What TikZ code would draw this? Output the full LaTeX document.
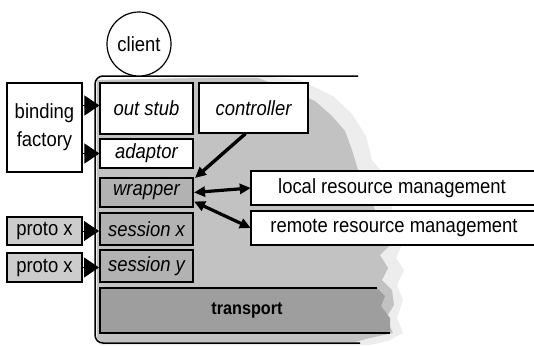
\documentclass[tikz,border=0pt]{standalone}
\usepackage{fontspec}
\setmainfont{Liberation Sans}[FakeStretch=0.9]
\usetikzlibrary{arrows.meta,calc}
\begin{document}
\begin{tikzpicture}[x=1pt,y=-1pt,
  txt/.style={font=\fontsize{20.5}{28}\selectfont},
  itxt/.style={font=\fontsize{20.5}{28}\selectfont\itshape},
  box/.style={draw, line width=1.2pt, fill=white, inner sep=0pt, align=center},
  layerbox/.style={box, line width=2pt, fill=black!30, itxt},
  plainbox/.style={box, itxt},
  outerbox/.style={box, txt},
  probox/.style={box, line width=1.4pt, fill=black!20, txt},
  openbox/.style={inner sep=0pt, fill=white, txt},
  wedge/.style={line width=1pt, -{Triangle[length=15pt,width=20pt]}},
  link/.style={line width=3.4pt, -{Triangle[length=11pt,width=10pt]}},
  duallink/.style={line width=3.2pt, {Triangle[length=11pt,width=10pt]}-{Triangle[length=11pt,width=10pt]}}
]
\useasboundingbox (0,0) rectangle (534,346);

% soft fringe of the shaded platform area
\fill[black!7] (260,76) -- (300,80) -- (333,96) -- (352,114) -- (366,136) -- (372,160)
  -- (382,172) -- (402,245) -- (396,258) -- (404,270) -- (397,285) -- (403,300)
  -- (397,318) -- (403,333) -- (388,341) -- (370,345) -- (100,345) -- (96,340) -- (96,80) -- cycle;
% main shaded platform area
\fill[black!24] (97,80) -- (200,78) -- (258,78) -- (290,90) -- (315,101) -- (332,116)
  -- (345,131) -- (352,150) -- (358,170) -- (390,245) -- (380,255) -- (388,268)
  -- (382,280) -- (392,290) -- (394,305) -- (386,318) -- (393,333) -- (370,338)
  -- (355,342) -- (102,342) -- (97,338) -- cycle;

% transport band
\coordinate (tTL) at (100,288);
\coordinate (tTR) at (377,288);
\coordinate (tBL) at (100,333);
\coordinate (tBR) at (390,333);
\fill[black!38] (tTL) -- (tTR) -- (385,296) -- (381,306) -- (390,318) -- (tBR) -- (tBL) -- cycle;
\draw[line width=2pt] (tTR) -- (tTL) -- (tBL) -- (tBR);
\node[font=\fontsize{18}{20}\selectfont\bfseries] (transport) at (247,310) {transport};

% container outline, open on the right
\draw[line width=1.5pt, rounded corners=8pt] (358,76) -- (95,76) -- (95,343) -- (360,343);

% boxes inside the container
\node[plainbox, minimum width=93pt, minimum height=51pt] (outstub) at (146.5,108.5) {out stub};
\node[plainbox, minimum width=93pt, minimum height=29pt] (adaptor) at (146.5,153.5) {adaptor};
\node[layerbox, minimum width=93pt, minimum height=29pt] (wrapper) at (146.5,192.5) {wrapper};
\node[layerbox, minimum width=93pt, minimum height=32pt] (sessx) at (146.5,229) {session x};
\node[layerbox, minimum width=93pt, minimum height=32pt] (sessy) at (146.5,266) {session y};
\node[plainbox, minimum width=109pt, minimum height=50pt] (controller) at (253.5,108) {controller};

% resource management boxes, running off the right edge
\node[openbox, minimum width=290pt, minimum height=34pt] (local) at (396,188) {\hspace*{-8pt}local resource management};
\draw[line width=1.5pt] (local.north east) -- (local.north west) -- (local.south west) -- (local.south east);
\node[openbox, minimum width=290pt, minimum height=34pt] (remote) at (396,228) {\hspace*{-4pt}remote resource management};
\draw[line width=1.5pt] (remote.north east) -- (remote.north west) -- (remote.south west) -- (remote.south east);

% boxes outside the container
\node[outerbox, minimum width=75pt, minimum height=89pt] (binding) at (44.5,127.5) {binding\\factory};
\node[probox, minimum width=75pt, minimum height=28pt] (proto1) at (44.5,231) {proto x};
\node[probox, minimum width=75pt, minimum height=29pt] (proto2) at (44.5,267.5) {proto x};

% client
\node[draw, circle, line width=1.2pt, fill=white, minimum size=64pt, inner sep=0pt, txt] (client) at (139,44) {client};

% plug-in wedges
\draw[wedge] ([yshift=3pt]outstub.west -| binding.east) -- ([yshift=3pt]outstub.west);
\draw[wedge] (adaptor.west -| binding.east) -- (adaptor.west);
\draw[wedge] (proto1.east) -- (proto1.east -| sessx.west);
\draw[wedge] (proto2.east) -- (proto2.east -| sessy.west);

% control and resource links
\draw[link] ([xshift=-8pt]controller.south) -- ([xshift=1pt,yshift=-1pt]wrapper.north east);
\draw[duallink] (wrapper.east) -- (local.west);
\draw[duallink] ([yshift=-9pt]wrapper.east) -- (remote.west);
\end{tikzpicture}
\end{document}
